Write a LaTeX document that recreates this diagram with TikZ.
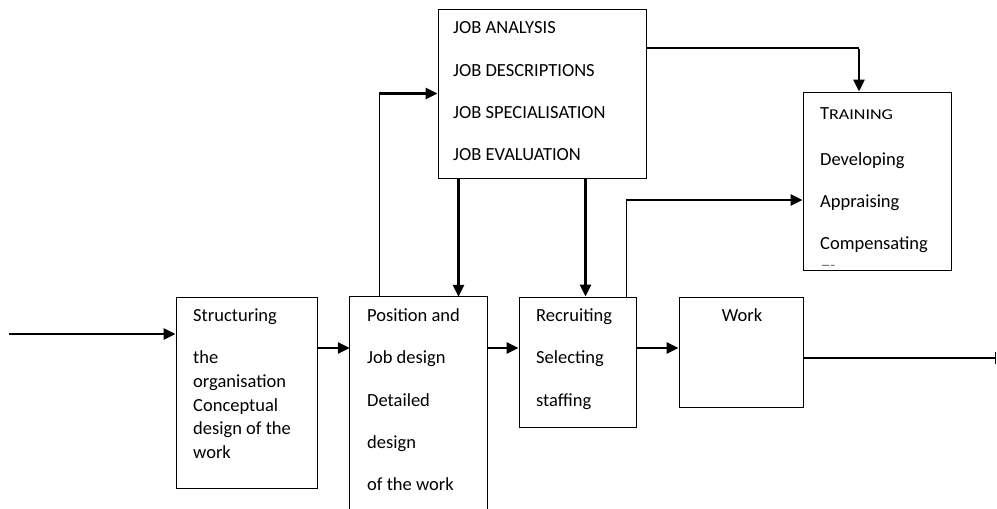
\documentclass[tikz,border=0pt]{standalone}
\usepackage{fontspec}
\setmainfont{Carlito}
\usetikzlibrary{arrows.meta,calc}
\begin{document}
\begin{tikzpicture}[x=1pt,y=-1pt,
  box/.style={draw,line width=1pt,inner sep=0,minimum width=#1},
  lbl/.style={anchor=base west,inner sep=0,font=\fontsize{18.5}{22}\selectfont},
  thk/.style={line width=2.8pt},
  thn/.style={line width=1.2pt},
  arr/.style={line width=2.8pt,-{Triangle[length=12pt,width=11pt]}}]
\useasboundingbox (0,0) rectangle (997,509);
% boxes
\node[box=208pt,minimum height=169pt] (job) at (542,93.5) {};
\node[box=148pt,minimum height=178pt] (train) at (877,181) {};
\node[box=141pt,minimum height=191pt] (struct) at (246.5,392.5) {};
\node[draw=none,inner sep=0,minimum width=137pt,minimum height=212pt] (pos) at (418.5,403) {};
\draw[line width=1pt] (pos.south west) -- (pos.north west) -- (pos.north east) -- (pos.south east);
\node[box=117pt,minimum height=130pt] (recr) at (577.5,362) {};
\node[box=124pt,minimum height=110pt] (work) at (741,352) {};
% texts
\node[lbl] (j1) at (453,33) {JOB ANALYSIS};
\node[lbl] (j2) at (453,76) {JOB DESCRIPTIONS};
\node[lbl] (j3) at (453,118) {JOB SPECIALISATION};
\node[lbl] (j4) at (453,160) {JOB EVALUATION};
\node[lbl] (t1) at (820,119) {T\scalebox{1.2}[1]{\fontsize{15}{15}\selectfont RAINING}};
\node[lbl] (t2) at (820,165) {Developing};
\node[lbl] (t3) at (820,207) {Appraising};
\node[lbl] (t4) at (820,249) {Compensating};
\node[anchor=base west,inner sep=0,font=\fontsize{10}{10}\selectfont] (t5) at (821,268) {-----};
\node[lbl] (s1) at (193,321) {Structuring};
\node[lbl] (s2) at (193,363) {the};
\node[lbl] (s3) at (193,387) {organisation};
\node[lbl] (s4) at (193,411) {Conceptual};
\node[lbl] (s5) at (193,434) {design of the};
\node[lbl] (s6) at (193,458) {work};
\node[lbl] (p1) at (367,321) {Position and};
\node[lbl] (p2) at (367,363) {Job design};
\node[lbl] (p3) at (367,406) {Detailed};
\node[lbl] (p4) at (367,448) {design};
\node[lbl] (p5) at (367,490) {of the work};
\node[lbl] (r1) at (536,321) {Recruiting};
\node[lbl] (r2) at (536,363) {Selecting};
\node[lbl] (r3) at (536,406) {staffing};
\node[lbl,anchor=base] (w1) at (742,321) {Work};
% connectors
\coordinate (in) at (9,334);
\coordinate (out) at (996,358);
\draw[arr] (in) -- (in -| struct.west);
\draw[arr] (struct.east |- 0,348) -- (pos.west |- 0,348);
\draw[arr] (pos.east |- 0,348) -- (recr.west |- 0,348);
\draw[arr] (recr.east |- 0,348) -- (work.west |- 0,348);
\draw[thk,-{Bar[width=12pt,line width=1pt]}] (work.east |- out) -- (out);
% position -> job
\coordinate (pj) at ([xshift=30pt]pos.north west |- job.west);
\draw[thn] ([xshift=30pt]pos.north west) -- (pj);
\draw[arr] ([xshift=-0.6pt]pj) -- (job.west);
% job -> position, job -> recruiting
\draw[arr] ([xshift=21pt]job.south west) -- ([xshift=21pt]job.south west |- pos.north);
\draw[arr] ([xshift=148pt]job.south west) -- ([xshift=148pt]job.south west |- recr.north);
% job -> training
\coordinate (jt) at ([xshift=-18pt]train.north |- 0,48);
\draw[thn] (job.east |- jt) -- (jt);
\draw[arr] ([yshift=-0.6pt]jt) -- ([xshift=-18pt]train.north);
% recruiting -> training
\coordinate (rt) at ([xshift=-10pt]recr.north east |- 0,200);
\draw[thn] ([xshift=-10pt]recr.north east) -- (rt);
\draw[arr] ([xshift=-0.6pt]rt) -- (train.west |- rt);
\end{tikzpicture}
\end{document}
